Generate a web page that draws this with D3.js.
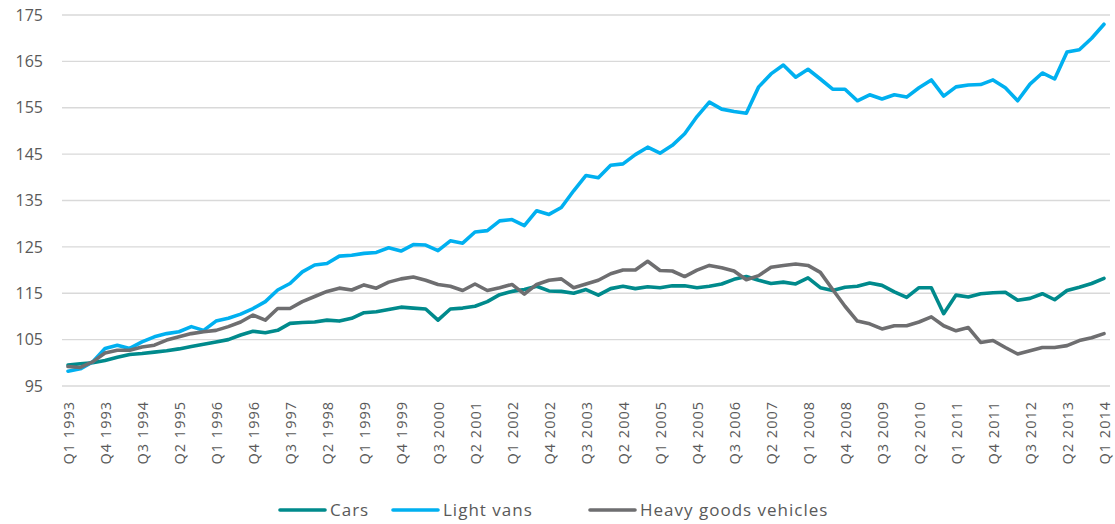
<!DOCTYPE html>
<html>
<head>
<meta charset="utf-8">
<script src="https://cdn.jsdelivr.net/npm/d3@7"></script>
<style>
  html, body { margin: 0; padding: 0; background: #fff; }
  svg { display: block; font-family: "Open Sans", "DejaVu Sans", sans-serif; }
</style>
</head>
<body>
<svg id="chart" width="1115" height="524"></svg>
<script>
const years = [1993,1994,1995,1996,1997,1998,1999,2000,2001,2002,2003,2004,2005,2006,2007,2008,2009,2010,2011,2012,2013,2014];
const quarters = ["Q1","Q2","Q3","Q4"];
const categories = [];
years.forEach(y => quarters.forEach(q => { if (y < 2014 || q === "Q1") categories.push(q + " " + y); }));

const yTicks = [95,105,115,125,135,145,155,165,175];

const cars = [
  99.5, 99.8, 100, 100.5, 101.2, 101.8, 102, 102.3, 102.6, 103,
  103.5, 104, 104.5, 105, 106, 106.8, 106.5, 107, 108.5, 108.7,
  108.8, 109.2, 109, 109.6, 110.8, 111, 111.5, 112, 111.8, 111.6,
  109.2, 111.6, 111.8, 112.2, 113.2, 114.7, 115.4, 115.8, 116.5, 115.5,
  115.4, 115, 115.8, 114.6, 116, 116.5, 116, 116.4, 116.2, 116.6,
  116.6, 116.2, 116.5, 117, 118, 118.6, 117.8, 117.1, 117.4, 117,
  118.3, 116.2, 115.6, 116.3, 116.5, 117.2, 116.7, 115.3, 114.1, 116.2,
  116.2, 110.6, 114.6, 114.2, 114.9, 115.1, 115.2, 113.5, 113.9, 114.9,
  113.6, 115.6, 116.3, 117.1, 118.2
];
const lightVans = [
  98.2, 98.7, 100.2, 103.1, 103.8, 103.1, 104.5, 105.6, 106.3, 106.7,
  107.8, 107, 109, 109.6, 110.5, 111.7, 113.2, 115.7, 117.1, 119.6,
  121.1, 121.4, 123, 123.2, 123.6, 123.8, 124.8, 124.1, 125.5, 125.4,
  124.2, 126.3, 125.8, 128.2, 128.5, 130.6, 130.9, 129.6, 132.8, 132,
  133.5, 137.1, 140.4, 139.9, 142.6, 142.9, 144.9, 146.5, 145.2, 146.9,
  149.4, 153.1, 156.2, 154.7, 154.2, 153.8, 159.5, 162.3, 164.2, 161.6,
  163.3, 161.2, 159, 159, 156.5, 157.8, 156.9, 157.8, 157.3, 159.3,
  161, 157.5, 159.5, 159.9, 160, 161, 159.3, 156.5, 160.1, 162.5,
  161.2, 167, 167.5, 170, 173
];
const heavyGoods = [
  99.2, 99, 100.2, 102.1, 102.7, 102.7, 103.4, 103.8, 104.9, 105.6,
  106.3, 106.7, 107, 107.8, 108.8, 110.3, 109.2, 111.7, 111.7, 113.2,
  114.3, 115.4, 116.1, 115.7, 116.8, 116.1, 117.4, 118.1, 118.5, 117.8,
  116.9, 116.5, 115.6, 117, 115.6, 116.2, 116.9, 114.8, 116.9, 117.8,
  118.1, 116.2, 117, 117.8, 119.2, 120, 120, 121.9, 119.9, 119.8,
  118.6, 120, 121, 120.5, 119.8, 117.9, 118.8, 120.6, 121, 121.3,
  121, 119.5, 115.8, 112.2, 109, 108.4, 107.3, 108, 108, 108.8,
  109.9, 108, 106.9, 107.6, 104.4, 104.8, 103.3, 101.9, 102.6, 103.3,
  103.3, 103.7, 104.8, 105.4, 106.3
];

const seriesNames = ["Cars", "Light vans", "Heavy goods vehicles"];
const seriesColors = ["#008a8c", "#00b0f0", "#6e6e70"];
const seriesData = [cars, lightVans, heavyGoods];

const svg = d3.select("#chart");
const plotLeft = 62, plotRight = 1110, plotTop = 15, plotBottom = 386;

const x = d3.scalePoint().domain(categories).range([68, 1104]);
const y = d3.scaleLinear().domain([95, 175]).range([plotBottom, plotTop]);

// gridlines
svg.append("g")
  .selectAll("line")
  .data(yTicks)
  .join("line")
  .attr("x1", plotLeft).attr("x2", plotRight)
  .attr("y1", d => y(d)).attr("y2", d => y(d))
  .attr("stroke", "#d9d9d9").attr("stroke-width", 1.3);

// y axis labels
const yAxis = d3.axisLeft(y).tickValues(yTicks).tickSize(0).tickPadding(0);
const yg = svg.append("g").attr("transform", "translate(43,0)").call(yAxis);
yg.select(".domain").remove();
yg.selectAll("text").attr("font-size", 16).attr("fill", "#595959").attr("font-family", "Open Sans, sans-serif");

// x axis labels
const xTicks = categories.filter((c, i) => i % 3 === 0);
const xAxis = d3.axisBottom(x).tickValues(xTicks).tickSize(0).tickPadding(0);
const xg = svg.append("g").attr("transform", "translate(0," + plotBottom + ")").call(xAxis);
xg.select(".domain").remove();
xg.selectAll("text")
  .attr("font-size", 14.5)
  .attr("fill", "#595959")
  .attr("font-family", "Open Sans, sans-serif")
  .attr("letter-spacing", "1px")
  .attr("text-anchor", "end")
  .attr("transform", "translate(0,15) rotate(-90)")
  .attr("x", 0).attr("y", 0).attr("dy", "0.36em");

// lines
const line = d3.line().x((d, i) => x(categories[i])).y(d => y(d));
svg.append("g")
  .selectAll("path")
  .data(seriesData)
  .join("path")
  .attr("d", d => line(d))
  .attr("fill", "none")
  .attr("stroke", (d, i) => seriesColors[i])
  .attr("stroke-width", 3.6)
  .attr("stroke-linejoin", "round")
  .attr("stroke-linecap", "round");

// legend
const legendX = [280, 393, 590];
const lg = svg.append("g").attr("transform", "translate(0,510)");
seriesNames.forEach((n, i) => {
  lg.append("line")
    .attr("x1", legendX[i]).attr("x2", legendX[i] + 45)
    .attr("y1", 0).attr("y2", 0)
    .attr("stroke", seriesColors[i]).attr("stroke-width", 3.6)
    .attr("stroke-linecap", "round");
  lg.append("text")
    .attr("x", legendX[i] + 50).attr("y", 0).attr("dy", "0.35em")
    .attr("font-size", 17).attr("fill", "#595959")
    .attr("letter-spacing", "1px")
    .attr("font-family", "Open Sans, sans-serif")
    .text(n);
});
</script>
</body>
</html>
